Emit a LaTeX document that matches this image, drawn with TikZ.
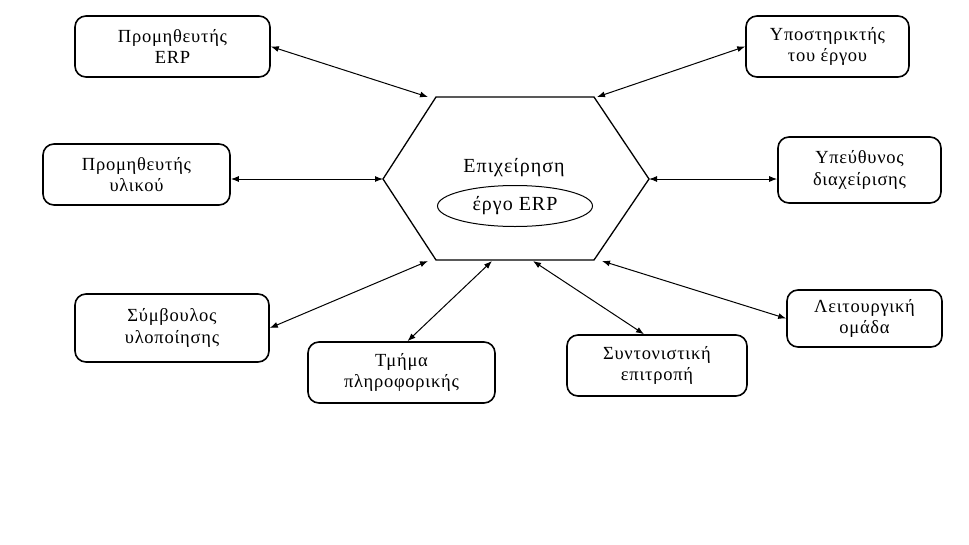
\documentclass[tikz,border=0pt]{standalone}
\usepackage{fontspec}
\setmainfont{Liberation Serif}
\usetikzlibrary{arrows.meta,shapes.geometric}
\begin{document}
\begin{tikzpicture}[x=1pt,y=-1pt,
  party/.style={draw, line width=1.6pt, rounded corners=11pt, align=center,
    font=\fontsize{18.5}{21.5}\selectfont\addfontfeatures{LetterSpace=4}, inner sep=0pt},
  hubtext/.style={font=\fontsize{20}{24}\selectfont\addfontfeatures{LetterSpace=5}},
  hexline/.style={line width=1.3pt, line join=miter},
  link/.style={line width=1pt, {Latex[length=8pt,width=6pt]}-{Latex[length=8pt,width=6pt]}}]
\useasboundingbox (0,0) rectangle (969,544);
\fill[white] (0,0) rectangle (969,544);

% central hexagon: the enterprise
\coordinate (tl) at (436,97);
\coordinate (tr) at (594,97);
\coordinate (rv) at (649,179);
\coordinate (br) at (594,260);
\coordinate (bl) at (436,260);
\coordinate (lv) at (383,179);
\draw[hexline] (tl) -- (tr) -- (rv) -- (br) -- (bl) -- (lv) -- cycle;
\node[hubtext] (firm) at (514,168) {Επιχείρηση};
\node[draw, ellipse, line width=1pt, minimum width=155pt, minimum height=41pt, inner sep=0pt,
  hubtext] (proj) at (515,206) {έργο ERP};

% contact points on the hexagon
\coordinate (hErp) at (428,97);
\coordinate (hSup) at (597,97);
\coordinate (hCons) at (428,261);
\coordinate (hIt) at (492,261);
\coordinate (hCoord) at (533,261);
\coordinate (hFunc) at (602,261);

% stakeholders
\node[party, minimum width=195pt, minimum height=61pt] (erp) at (172.5,46.5) {Προμηθευτής\\ERP};
\node[party, minimum width=163pt, minimum height=61pt] (sup) at (827.5,46.5) {Υποστηρικτής\\του έργου};
\node[party, minimum width=187pt, minimum height=61pt] (mat) at (136.5,174.5) {Προμηθευτής\\υλικού};
\node[party, minimum width=163pt, minimum height=66pt] (mgr) at (859.5,170) {Υπεύθυνος\\διαχείρισης};
\node[party, minimum width=194pt, minimum height=68pt] (cons) at (172,328) {Σύμβουλος\\υλοποίησης};
\node[party, minimum width=187pt, minimum height=61pt] (it) at (401.5,372.5) {Τμήμα\\πληροφορικής};
\node[party, minimum width=180pt, minimum height=61pt] (coord) at (657,365.5) {Συντονιστική\\επιτροπή};
\node[party, minimum width=155pt, minimum height=57pt] (func) at (864.5,318.5) {Λειτουργική\\ομάδα};

% relations
\draw[link] (erp.east) -- (hErp);
\draw[link] (sup.west) -- (hSup);
\draw[link] (mat.east |- lv) -- (lv);
\draw[link] (mgr.west |- rv) -- (rv);
\draw[link] (cons.east) -- (hCons);
\draw[link] ([xshift=6pt]it.north) -- (hIt);
\draw[link] ([xshift=-13pt]coord.north) -- (hCoord);
\draw[link] (func.west) -- (hFunc);
\end{tikzpicture}
\end{document}
